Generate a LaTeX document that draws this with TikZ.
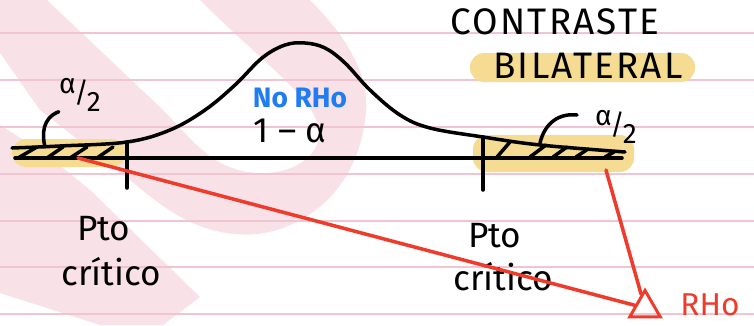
\documentclass[tikz,border=0pt]{standalone}
\usepackage{fontspec}
\setmainfont{Fira Sans}
\usepackage{xcolor}
\usepackage{tikz}
\usetikzlibrary{shapes.geometric,positioning,calc}

\definecolor{wmpink}{HTML}{F8E2E8}
\definecolor{rulepink}{HTML}{F0C4D0}
\definecolor{hlyellow}{HTML}{F6DC92}
\definecolor{inkred}{HTML}{EE3B2B}
\definecolor{inkblue}{HTML}{1F7CF2}

\begin{document}
\begin{tikzpicture}[x=0.02cm,y=-0.02cm,
	ink/.style={line width=2pt,line cap=round,line join=round},
	redline/.style={draw=inkred,line width=2pt,line cap=round},
	hl/.style={fill=hlyellow,rounded corners=8pt},
	rule/.style={draw=rulepink,line width=0.6pt},
	wm/.style={fill=wmpink},
	hand/.style={inner sep=0pt,anchor=base,font=\fontsize{20}{22}\selectfont}]

		% paper and watermark
		\fill[white] (0,0) rectangle (754,325);
		\useasboundingbox (0,0) rectangle (754,325);
		\fill[wm] (0,0) -- (47,0) -- (163,110) .. controls (195,143) and (215,172) .. (260,173)
			.. controls (300,174) and (325,150) .. (318,125) .. controls (310,95) and (260,60) .. (200,0)
			-- (310,0) .. controls (350,40) and (372,80) .. (365,120) .. controls (355,200) and (290,240) .. (235,234)
			.. controls (190,230) and (160,205) .. (130,180) -- (40,110) -- (0,53) -- cycle;
		\fill[wm] (0,125) .. controls (40,150) and (60,165) .. (90,190) -- (200,297) -- (163,325) -- (100,325) -- (0,293) -- cycle;
		\foreach \y in {33,80,127,174,221,267,314}
			\draw[rule] (0,\y) -- (754,\y);

		% highlights
		\fill[hl] (12,139) rectangle (126,167);
		\fill[hl] (473,135) rectangle (634,172);
		\fill[hl] (470,53) rectangle (695,82);

		% title
		\node[hand, font=\fontsize{21}{23}\selectfont\addfontfeatures{LetterSpace=6}] (title) at (555,34) {CONTRASTE};
		\node[hand, font=\fontsize{21}{23}\selectfont\addfontfeatures{LetterSpace=6}] (subtitle) at (588,78) {BILATERAL};

		% axis, ticks and curve
		\coordinate (axL) at (15,158);
		\coordinate (axR) at (622,158);
		\draw[ink] (axL) -- (axR);
		\draw[ink] (127,142) -- (127,188);
		\draw[ink] (483,137) -- (483,190);
		\draw[ink] plot[smooth,tension=0.6] coordinates {(12,148) (60,146) (127,142) (170,130) (205,110)
			(235,85) (262,58) (285,45) (305,43) (325,48) (345,63) (370,90) (400,115) (430,128)
			(483,137) (540,145) (625,152)};

		% hatching of the tails
		\foreach \a/\b in {18/37, 47/63, 70/87, 97/113}
			\draw[ink] (\a,158) -- (\b,147);
		\foreach \a/\b/\c in {497/510/142, 530/546/145, 553/567/147, 576/588/149, 605/614/152}
			\draw[ink] (\a,157) -- (\b,\c);

		% labels
		\node[hand, font=\fontsize{16}{18}\selectfont\bfseries, text=inkblue] (noRHo) at (300,107) {No RHo};
		\node[hand] (conf) at (290,142) {1 -- α};
		\node[inner sep=0pt, font=\fontsize{16}{18}\selectfont] (halfL) at (80,95)
			{\raisebox{5pt}{α}\kern-1pt/\kern-1pt\raisebox{-5pt}{2}};
		\node[inner sep=0pt, font=\fontsize{16}{18}\selectfont] (halfR) at (616,127)
			{\raisebox{5pt}{α}\kern-1pt/\kern-1pt\raisebox{-5pt}{2}};
		\coordinate (hatchL) at (45,147);
		\coordinate (hatchR) at (540,143);
		\coordinate (tipR) at (577,115);
		\draw[ink] (halfL.south west) .. controls (42,118) and (42,135) .. (hatchL);
		\draw[ink] (hatchR) .. controls (545,122) and (560,113) .. (tipR);

		\node[hand] (ptoL) at (104,240) {Pto};
		\node[hand] (critL) at (111,285) {crítico};
		\node[hand] (ptoR) at (495,247) {Pto};
		\node[hand] (critR) at (503,290) {crítico};

		% rejection region
		\coordinate (startL) at (78,158);
		\coordinate (startR) at (606,170);
		\node[draw=inkred, line width=1.7pt, regular polygon, regular polygon sides=3,
			inner sep=0pt, minimum size=20pt] (rho) at (645,308) {};
		\node[hand, font=\fontsize{18}{20}\selectfont, text=inkred] (rhoTxt) at (710,315) {RHo};
		\draw[redline] (startL) -- (rho);
		\draw[redline] (startR) -- (rho);
	\end{tikzpicture}
\end{document}
